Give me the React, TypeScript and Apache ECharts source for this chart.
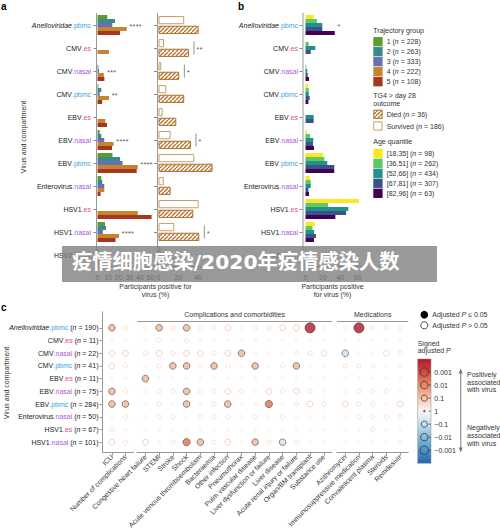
import { useEffect, useRef } from 'react';
import * as echarts from 'echarts';

const FONT = "'Liberation Sans', Arial, Helvetica, sans-serif";
const TXT = '#333333';

// ---------- Panels a & b ----------
const virusCategories = [
  'Anelloviridae.pbmc', 'CMV.es', 'CMV.nasal', 'CMV.pbmc', 'EBV.es', 'EBV.nasal',
  'EBV.pbmc', 'Enterovirus.nasal', 'HSV1.es', 'HSV1.nasal', 'HSV2.nasal',
];

const trajGroupLabels = ['1', '2', '3', '4', '5'];
const trajGroupN = [228, 263, 333, 222, 108];
const trajColors = ['#5c9b2e', '#3a8a8c', '#6870b4', '#c7832f', '#a5381c'];
const traj1 = [9.2, 0, 0, 0.8, 0, 2, 14.1, 3.6, 0, 7.1, 0];
const traj2 = [16.5, 0, 0.8, 3.6, 0, 3.6, 21.3, 4.5, 0, 8, 1];
const traj3 = [14, 0, 1.5, 2, 0, 6.4, 23.6, 6.4, 0, 5, 0];
const traj4 = [27.5, 10.8, 6, 10.8, 7.4, 15.2, 38, 6.4, 38, 20.3, 2];
const traj5 = [21.2, 0, 6.5, 4.4, 9, 13.7, 37, 2.9, 51, 17, 1];
const trajStars = ['****', '', '***', '**', '', '****', '****', '', '', '****', ''];

const outcomeLabels = ['Died', 'Survived'];
const outcomeN = [36, 186];
const survivedPct = [26, 5.6, 2.8, 7.9, 4.2, 12.3, 36.2, 5.3, 40.6, 16, 2];
const diedPct = [40.6, 30.8, 21, 26, 18, 32.8, 54.7, 12.3, 35.2, 41.2, 3];
const outcomeStars = ['', '**', '*', '', '', '*', '', '', '', '*', ''];

const ageLabels = ['[18,35]', '[36,51]', '[52,66]', '[67,81]', '[82,96]'];
const ageN = [98, 262, 434, 307, 63];
const ageColors = ['#fde725', '#5ec962', '#21918c', '#3b528b', '#440154'];
const age1 = [9.4, 0, 0, 3.3, 0, 1.7, 20, 5.2, 61.5, 10.5, 0];
const age2 = [13.2, 3.7, 1, 3.7, 0, 5.2, 21.6, 6, 25.9, 7.9, 1];
const age3 = [19.3, 11.3, 2, 3.7, 9.4, 9, 25, 6, 49.2, 9.8, 1];
const age4 = [19.3, 6, 2.5, 4.8, 9.4, 8.6, 33, 3.3, 46.6, 12.1, 1];
const age5 = [33.6, 0, 4, 3.3, 0, 9.8, 33, 4, 34.3, 9.8, 0];
const ageStars = ['*', '', '', '', '', '', '', '', '', '', ''];

const xTicksTraj = [0, 10, 20, 30, 40, 50];
const xTicksOutcome = [0, 20, 40];
const xTicksAge = [0, 20, 40, 60];

// ---------- Panel c ----------
const cRows = [
  'Anelloviridae.pbmc', 'CMV.es', 'CMV.nasal', 'CMV.pbmc', 'EBV.es', 'EBV.nasal',
  'EBV.pbmc', 'Enterovirus.nasal', 'HSV1.es', 'HSV1.nasal',
];
const cRowN = [190, 11, 22, 41, 11, 75, 284, 50, 67, 101];
const cColsClinical = ['ICU', 'Number of complications'];
const cColsComplications = [
  'Congestive heart failure', 'STEMI', 'Stroke', 'Shock', 'Acute venous thromboembolism',
  'Bacteraemia', 'Other infection', 'Pneumothorax', 'Pulm vascular disease',
  'Liver dysfunction or failure', 'Liver disease', 'Acute renal injury or failure',
  'Organ/BM transplant', 'Substance use',
];
const cColsMedications = ['Azithromycin', 'Immunosuppressive medication', 'Convalescent plasma', 'Steroids', 'Remdesivir'];
// Cell codes (signed adjusted P class): S = adj. P <= 0.05 (positive), A/B = strong positive,
// C = strong negative, h/m/o = weaker positive (large/medium/tiny), b/n = weaker negative
const cCodes = [
  'Am oAmAmmhommhhSo oSmmm',
  'oo omomoooooooooo ooooo',
  'hh mhmhhmhAooommb Coobm',
  'hm omAAmAmoAomAoo mmmoo',
  'oo Aooooooooooooo ooooo',
  'Am ommAmmhmohmhno ommmo',
  'AA omoAomAooBomhm hmmoh',
  'om ommommmomomooo ommmm',
  'mo oooooooooooooo oomoo',
  'hm homBAmhoAmCmoo ooooo',
];
const colourbarLabels = ['0.001', '0.01', '0.1', '1', '\u22120.1', '\u22120.01', '\u22120.001'];

const dotStyles: Record<string, { size: number; fill: string; stroke: string; lw: number }> = {
  S: { size: 10, fill: '#b2182b', stroke: '#333', lw: 0.8 },
  A: { size: 6.6, fill: '#f4b596', stroke: '#4a4a4a', lw: 0.8 },
  B: { size: 7.2, fill: '#e2714f', stroke: '#4a4a4a', lw: 0.8 },
  C: { size: 6.6, fill: '#cfe4f0', stroke: '#4a4a4a', lw: 0.8 },
  h: { size: 5.8, fill: 'rgba(0,0,0,0)', stroke: '#f5c2a6', lw: 1 },
  b: { size: 5.8, fill: 'rgba(0,0,0,0)', stroke: '#c3dbea', lw: 1 },
  m: { size: 4.4, fill: 'rgba(0,0,0,0)', stroke: '#f7d4c2', lw: 0.9 },
  n: { size: 4.4, fill: 'rgba(0,0,0,0)', stroke: '#c9dfec', lw: 0.9 },
  o: { size: 3, fill: 'rgba(0,0,0,0)', stroke: '#f4e2d9', lw: 0.8 },
};

const labelRich: any = {
  v: { fontSize: 7, fontFamily: FONT, color: '#222' },
  vi: { fontSize: 7, fontFamily: FONT, color: '#222', fontStyle: 'italic' },
  pbmc: { fontSize: 7, fontFamily: FONT, color: '#3aa6da' },
  es: { fontSize: 7, fontFamily: FONT, color: '#e0527e' },
  nasal: { fontSize: 7, fontFamily: FONT, color: '#aa5bd8' },
};

function compLabel(name: string, n?: number): string {
  const dot = name.indexOf('.');
  const virus = name.slice(0, dot);
  const comp = name.slice(dot + 1);
  const vTok = virus === 'Anelloviridae' ? `{vi|${virus}}` : `{v|${virus}}`;
  let s = `${vTok}{${comp}|.${comp}}`;
  if (n !== undefined) s += `{v| (}{vi|n}{v| = ${n})}`;
  return s;
}

function makeHatch(): HTMLCanvasElement {
  const s = 4;
  const c = document.createElement('canvas');
  c.width = s;
  c.height = s;
  const ctx = c.getContext('2d')!;
  ctx.fillStyle = '#ffffff';
  ctx.fillRect(0, 0, s, s);
  ctx.strokeStyle = '#b07834';
  ctx.lineWidth = 1.3;
  for (const k of [-1, 0, 1]) {
    ctx.beginPath();
    ctx.moveTo(k * s, s);
    ctx.lineTo(k * s + s, 0);
    ctx.stroke();
  }
  return c;
}

function buildOption(): any {
  const hatch = { image: makeHatch(), repeat: 'repeat', imageWidth: 4, imageHeight: 4 };

  const valueX = (grid: number, max: number, ticks: number[]) => ({
    type: 'value', gridIndex: grid, min: 0, max,
    axisLine: { show: true, onZero: false, lineStyle: { color: '#999', width: 1 } },
    axisTick: { show: true, length: 3, customValues: ticks, lineStyle: { color: '#999' } },
    axisLabel: { customValues: ticks, fontSize: 7, color: TXT, fontFamily: FONT, margin: 7 },
    splitLine: { show: false },
  });
  const catY = (grid: number, showLabels: boolean, offset: number, margin: number, lineColor: string, lineWidth: number) => ({
    type: 'category', gridIndex: grid, data: virusCategories, inverse: true, offset,
    axisLine: { show: true, onZero: false, lineStyle: { color: lineColor, width: lineWidth } },
    axisTick: { show: true, length: 3, alignWithLabel: true, lineStyle: { color: '#888' } },
    axisLabel: { show: showLabels, margin, formatter: (v: string) => compLabel(v), rich: labelRich, fontSize: 7 },
    splitLine: { show: false },
  });

  const cGroups = [cColsClinical, cColsComplications, cColsMedications];
  const cXMin = [-0.7, -0.6, -0.6];
  const cXMax = [1.6, 13.6, 4.6];
  const rowIdx = cRows.map((_, i) => i);
  const cX = (grid: number, g: number) => {
    const cols = cGroups[g];
    const idx = cols.map((_, i) => i);
    return {
      type: 'value', gridIndex: grid, min: cXMin[g], max: cXMax[g],
      axisLine: { show: true, onZero: false, lineStyle: { color: '#999' } },
      axisTick: { show: true, length: 3, customValues: idx, lineStyle: { color: '#999' } },
      axisLabel: {
        customValues: idx, formatter: (v: number) => cols[Math.round(v)] ?? '', rotate: 45,
        fontSize: 7, color: TXT, fontFamily: FONT, margin: 3,
      },
      splitLine: { show: false },
    };
  };
  const cY = (grid: number, show: boolean) => ({
    type: 'value', gridIndex: grid, min: -1.27, max: 9.83, inverse: true, show,
    axisLine: { show: true, onZero: false, lineStyle: { color: '#999' } },
    axisTick: { show: true, length: 3, customValues: rowIdx, lineStyle: { color: '#999' } },
    axisLabel: {
      customValues: rowIdx, margin: 4, rich: labelRich, fontSize: 7,
      formatter: (v: number) => compLabel(cRows[Math.round(v)], cRowN[Math.round(v)]),
    },
    splitLine: { show: false },
  });

  const series: any[] = [];
  const trajValues = [traj1, traj2, traj3, traj4, traj5];
  trajValues.forEach((vals, i) => series.push({
    type: 'bar', xAxisIndex: 0, yAxisIndex: 0, data: vals, barWidth: 4, barGap: '0%',
    itemStyle: { color: trajColors[i] }, silent: true,
  }));
  series.push({
    type: 'bar', xAxisIndex: 1, yAxisIndex: 1, data: survivedPct, barWidth: 8.2, barGap: '18%',
    itemStyle: { color: '#ffffff', borderColor: '#c99d64', borderWidth: 1 }, silent: true,
  });
  series.push({
    type: 'bar', xAxisIndex: 1, yAxisIndex: 1, data: diedPct, barWidth: 8.2, barGap: '18%',
    itemStyle: { color: hatch, borderColor: '#a8732f', borderWidth: 1 }, silent: true,
  });
  const ageValues = [age1, age2, age3, age4, age5];
  ageValues.forEach((vals, i) => series.push({
    type: 'bar', xAxisIndex: 2, yAxisIndex: 2, data: vals, barWidth: 4, barGap: '0%',
    itemStyle: { color: ageColors[i] }, silent: true,
  }));

  const starSeries = (axis: number, groups: number[][], stars: string[], extra: any = {}) => ({
    type: 'scatter', xAxisIndex: axis, yAxisIndex: axis, symbolSize: 1, silent: true, z: 5,
    itemStyle: { color: 'rgba(0,0,0,0)' },
    data: virusCategories
      .map((_, i) => (stars[i] ? { value: [Math.max(...groups.map((g) => g[i])), i], name: stars[i] } : null))
      .filter(Boolean),
    label: {
      show: true, position: 'right', distance: 2, offset: [0, 1.5], formatter: (p: any) => p.name,
      fontSize: 8, color: TXT, fontFamily: FONT,
    },
    ...extra,
  });
  series.push(starSeries(0, trajValues, trajStars));
  series.push(starSeries(1, [survivedPct, diedPct], outcomeStars, {
    symbol: 'rect', symbolSize: [0.8, 13], symbolOffset: [5, 0], itemStyle: { color: '#555' },
  }));
  series.push(starSeries(2, ageValues, ageStars));

  let colOffset = 0;
  cGroups.forEach((cols, g) => {
    const data: any[] = [];
    cRows.forEach((_, r) => {
      const codes = cCodes[r].replace(/ /g, '');
      cols.forEach((__, c) => {
        const st = dotStyles[codes[colOffset + c]];
        data.push({
          value: [c, r], symbolSize: st.size,
          itemStyle: { color: st.fill, borderColor: st.stroke, borderWidth: st.lw },
        });
      });
    });
    data.sort((a, b) => a.symbolSize - b.symbolSize);
    colOffset += cols.length;
    series.push({ type: 'scatter', xAxisIndex: 3 + g, yAxisIndex: 3 + g, symbol: 'circle', data, silent: true });
  });

  // ---------- graphic ----------
  const gfx: any[] = [];
  const text = (x: number, y: number, t: string, extra: any = {}, styleExtra: any = {}) => gfx.push({
    type: 'text', x, y, z: 10, ...extra,
    style: { text: t, fontSize: 7, fontFamily: FONT, fill: TXT, align: 'left', verticalAlign: 'middle', ...styleExtra },
  });
  const richN = (lead: string, n: number) => `{a|${lead} (}{i|n}{a| = ${n})}`;
  const gRich = {
    a: { fontSize: 7, fontFamily: FONT, fill: TXT },
    i: { fontSize: 7, fontFamily: FONT, fill: TXT, fontStyle: 'italic' },
  };

  text(1, 6, 'a', {}, { fontSize: 10, fontWeight: 'bold', fill: '#000' });
  text(238, 6, 'b', {}, { fontSize: 10, fontWeight: 'bold', fill: '#000' });
  text(1, 307, 'c', {}, { fontSize: 10, fontWeight: 'bold', fill: '#000' });

  text(23, 137, 'Virus and compartment', { rotation: Math.PI / 2 }, { align: 'center' });
  text(6.5, 383, 'Virus and compartment', { rotation: Math.PI / 2 }, { align: 'center' });
  text(155.5, 290.5, 'Participants positive for\nvirus (%)', {}, { align: 'center', lineHeight: 8.4 });
  text(332.5, 290.5, 'Participants positive\nfor virus (%)', {}, { align: 'center', lineHeight: 8.4 });

  // legend panel b
  const lx = 373.3;
  const sq = 9.3;
  text(lx, 30, 'Trajectory group');
  trajGroupLabels.forEach((lab, i) => {
    const cy = 41.7 + i * 10;
    gfx.push({ type: 'rect', shape: { x: lx, y: cy - sq / 2, width: sq, height: sq }, style: { fill: trajColors[i] }, z: 10 });
    text(lx + 13.4, cy, richN(lab, trajGroupN[i]), {}, { rich: gRich });
  });
  text(lx, 99.3, 'TG4 > day 28\noutcome', {}, { lineHeight: 8 });
  outcomeLabels.forEach((lab, i) => {
    const cy = 114.3 + i * 11.7;
    gfx.push({
      type: 'rect', shape: { x: lx + 0.5, y: cy - sq / 2 + 0.5, width: sq - 1, height: sq - 1 },
      style: { fill: i === 0 ? hatch : '#ffffff', stroke: i === 0 ? '#a8732f' : '#c99d64', lineWidth: 1 }, z: 10,
    });
    text(lx + 13.4, cy, richN(lab, outcomeN[i]), {}, { rich: gRich });
  });
  text(lx, 141.7, 'Age quantile');
  ageLabels.forEach((lab, i) => {
    const cy = 153.3 + i * 10;
    gfx.push({ type: 'rect', shape: { x: lx, y: cy - sq / 2, width: sq, height: sq }, style: { fill: ageColors[i] }, z: 10 });
    text(lx + 13.4, cy, richN(lab, ageN[i]), {}, { rich: gRich });
  });

  // panel c strips
  text(234.6, 314.5, 'Complications and comorbidities', {}, { align: 'center' });
  gfx.push({ type: 'line', shape: { x1: 137.5, y1: 321.5, x2: 332, y2: 321.5 }, style: { stroke: '#999', lineWidth: 1 }, z: 10 });
  text(372.7, 314.5, 'Medications', {}, { align: 'center' });
  gfx.push({ type: 'line', shape: { x1: 337, y1: 321.5, x2: 408.3, y2: 321.5 }, style: { stroke: '#999', lineWidth: 1 }, z: 10 });

  // panel c legend
  gfx.push({ type: 'circle', shape: { cx: 424.3, cy: 314.7, r: 3.8 }, style: { fill: '#000' }, z: 10 });
  text(432.3, 314.7, '{a|Adjusted }{i|P}{a| \u2264 0.05}', {}, { rich: gRich });
  gfx.push({ type: 'circle', shape: { cx: 424.3, cy: 325.3, r: 3.6 }, style: { fill: '#fff', stroke: '#222', lineWidth: 0.8 }, z: 10 });
  text(432.3, 325.3, '{a|Adjusted }{i|P}{a| > 0.05}', {}, { rich: gRich });
  text(417.7, 347, '{a|Signed}\n{a|adjusted }{i|P}', {}, { rich: gRich, lineHeight: 7.8 });

  const cbTop = 359;
  const cbH = 104.3;
  gfx.push({
    type: 'rect', shape: { x: 417.7, y: cbTop, width: 13.3, height: cbH }, z: 10,
    style: {
      stroke: '#888', lineWidth: 0.5,
      fill: {
        type: 'linear', x: 0, y: 0, x2: 0, y2: 1,
        colorStops: [
          { offset: 0, color: '#b2182b' }, { offset: 0.12, color: '#cf4a3b' },
          { offset: 0.25, color: '#e88a6b' }, { offset: 0.38, color: '#f8c8b0' },
          { offset: 0.5, color: '#f7f7f7' }, { offset: 0.62, color: '#c9e0ee' },
          { offset: 0.75, color: '#86bbdb' }, { offset: 0.88, color: '#4a92c6' },
          { offset: 1, color: '#2166ac' },
        ],
      },
    },
  });
  const cbRadii = [4.2, 3.7, 3.1, 0.8, 3.1, 3.7, 4.2];
  colourbarLabels.forEach((lab, k) => {
    const cy = cbTop + ((k + 1) * cbH) / 8;
    gfx.push({ type: 'circle', shape: { cx: 424.3, cy, r: cbRadii[k] }, style: { fill: 'rgba(0,0,0,0)', stroke: '#333', lineWidth: 0.8 }, z: 11 });
    gfx.push({ type: 'line', shape: { x1: 428.5, y1: cy, x2: 431, y2: cy }, style: { stroke: '#333', lineWidth: 0.6 }, z: 11 });
    text(434.3, cy, lab);
  });
  gfx.push({ type: 'line', shape: { x1: 460.7, y1: 372, x2: 460.7, y2: 449 }, style: { stroke: '#999', lineWidth: 1.3 }, z: 10 });
  gfx.push({ type: 'polygon', shape: { points: [[460.7, 368.5], [458.7, 373.5], [462.7, 373.5]] }, style: { fill: '#777' }, z: 10 });
  gfx.push({ type: 'polygon', shape: { points: [[460.7, 452.5], [458.7, 447.5], [462.7, 447.5]] }, style: { fill: '#777' }, z: 10 });
  text(467, 382, 'Positively\nassociated\nwith virus', {}, { lineHeight: 7.8 });
  text(467, 435.5, 'Negatively\nassociated\nwith virus', {}, { lineHeight: 7.8 });

  // watermark banner
  gfx.push({ type: 'rect', shape: { x: 62, y: 246, width: 375, height: 36 }, style: { fill: 'rgba(128,128,128,0.8)' }, z: 100 });
  gfx.push({
    type: 'text', x: 72, y: 261.7, z: 101,
    style: {
      text: '疫情细胞感染/2020年疫情感染人数', fontSize: 20.3, fontWeight: 'bold', lineHeight: 20,
      fontFamily: "'DejaVu Sans', 'Noto Sans CJK SC', sans-serif", fill: '#ffffff', align: 'left', verticalAlign: 'middle',
    },
  });

  return {
    animation: false,
    backgroundColor: '#ffffff',
    textStyle: { fontFamily: FONT },
    grid: [
      { left: 97.5, top: 13.5, width: 58.3, height: 253, outerBoundsMode: 'none' },
      { left: 158.5, top: 13.5, width: 55.4, height: 253, outerBoundsMode: 'none' },
      { left: 305.5, top: 13.5, width: 56.6, height: 253, outerBoundsMode: 'none' },
      { left: 102.5, top: 311.7, width: 31, height: 141, outerBoundsMode: 'none' },
      { left: 137.2, top: 311.7, width: 194.8, height: 141, outerBoundsMode: 'none' },
      { left: 337, top: 311.7, width: 71.3, height: 141, outerBoundsMode: 'none' },
    ],
    xAxis: [
      valueX(0, 55, xTicksTraj),
      valueX(1, 56, xTicksOutcome),
      valueX(2, 65, xTicksAge),
      cX(3, 0), cX(4, 1), cX(5, 2),
    ],
    yAxis: [
      catY(0, true, 1, 5.5, '#999', 1),
      catY(1, false, 1.5, 4, '#999', 1),
      catY(2, true, 3, 4.5, '#bbb', 1.5),
      cY(3, true), cY(4, false), cY(5, false),
    ],
    series,
    graphic: { elements: gfx },
  };
}

export default function App() {
  const ref = useRef<HTMLDivElement>(null);
  useEffect(() => {
    if (!ref.current) return;
    const chart = echarts.init(ref.current, undefined, { renderer: 'svg' });
    chart.setOption(buildOption());
    return () => chart.dispose();
  }, []);
  return (
    <div
      ref={ref}
      style={{ position: 'absolute', left: 0, top: 0, width: 500, height: 530, background: '#fff' }}
    />
  );
}
